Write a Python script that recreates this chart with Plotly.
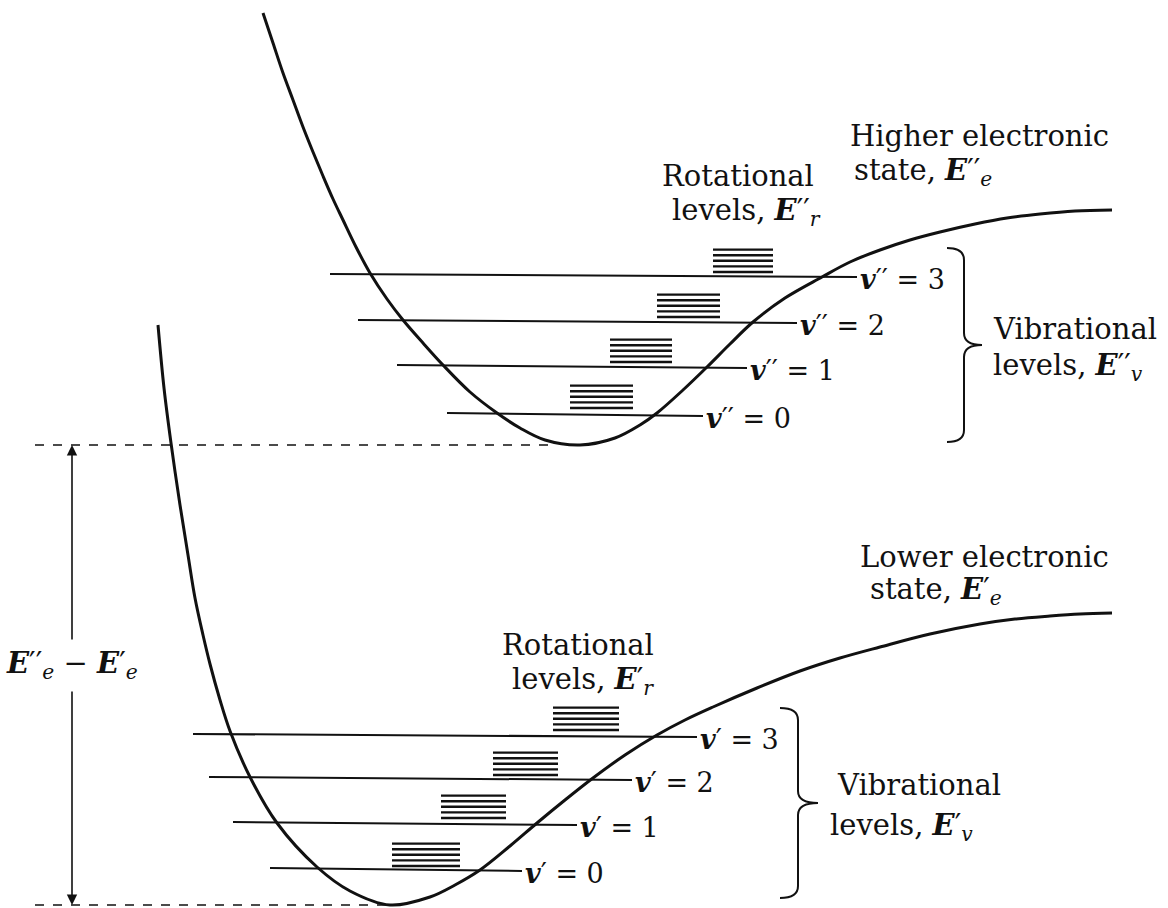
import plotly.graph_objects as go

W, H = 1168, 908

# ---- potential curves (pixel space) ----
upper_curve_x = [263, 273, 283, 293, 303, 313, 323, 333, 343, 356, 370, 387, 403, 423, 443, 470, 497, 520, 545, 580,
                 615, 640, 657, 683, 707, 730, 753, 785, 822, 850, 880, 910, 940, 975, 1007, 1040, 1075, 1112]
upper_curve_y = [13, 43, 73, 100, 127, 152, 176, 199, 220, 247, 273, 299, 320, 343, 365, 392, 413, 428, 440, 445,
                 438, 425, 413, 390, 367, 344, 322, 298, 277, 262, 250, 240, 232, 224, 218, 214, 211, 210]

lower_curve_x = [158, 164, 171, 180, 188, 195, 203, 210, 220, 230, 250, 277, 317, 350, 390, 430, 455, 480, 510, 537,
                 565, 593, 625, 657, 685, 713, 757, 800, 840, 880, 930, 980, 1015, 1050, 1080, 1112]
lower_curve_y = [325, 388, 443, 505, 555, 598, 635, 664, 700, 731, 777, 823, 867, 891, 905, 897, 885, 870, 846, 823,
                 800, 778, 755, 735, 720, 707, 688, 671, 658, 647, 634, 624, 619, 616, 614, 613]

# ---- vibrational levels ----
upper_level_y = [414, 366, 321, 275]
upper_level_x0 = [447, 397, 358, 330]
upper_level_x1 = [703, 747, 797, 857]
upper_level_labels = ["<b><i>v</i></b>′′ = 0", "<b><i>v</i></b>′′ = 1", "<b><i>v</i></b>′′ = 2", "<b><i>v</i></b>′′ = 3"]

lower_level_y = [869, 823, 778, 735]
lower_level_x0 = [270, 233, 209, 193]
lower_level_x1 = [522, 577, 632, 697]
lower_level_labels = ["<b><i>v</i></b>′ = 0", "<b><i>v</i></b>′ = 1", "<b><i>v</i></b>′ = 2", "<b><i>v</i></b>′ = 3"]

# ---- rotational level blocks ----
upper_rot_x0 = [570, 610, 657, 713]
upper_rot_x1 = [633, 672, 720, 773]
upper_rot_ybot = [408, 362, 317, 272]

lower_rot_x0 = [392, 441, 493, 553]
lower_rot_x1 = [460, 506, 558, 619]
lower_rot_ybot = [866, 818, 775, 730]

n_rot_lines = 5
rot_gap = 5.6

# ---- reference dashed lines ----
upper_dash_y, upper_dash_x = 445, [35, 552]
lower_dash_y, lower_dash_x = 905, [35, 392]

FONT = "DejaVu Serif"
BLACK = "#111111"

fig = go.Figure()

def line(xs, ys, width, dash="solid", shape="linear"):
    fig.add_trace(go.Scatter(x=xs, y=ys, mode="lines",
                             line=dict(color=BLACK, width=width, dash=dash, shape=shape, smoothing=1.0),
                             hoverinfo="skip", showlegend=False))

line(upper_curve_x, upper_curve_y, 3, shape="spline")
line(lower_curve_x, lower_curve_y, 3, shape="spline")

for y, a, b in zip(upper_level_y, upper_level_x0, upper_level_x1):
    line([a, b], [y - 1, y + 2], 2)
for y, a, b in zip(lower_level_y, lower_level_x0, lower_level_x1):
    line([a, b], [y - 1, y + 2], 2)

for x0s, x1s, ybs in [(upper_rot_x0, upper_rot_x1, upper_rot_ybot), (lower_rot_x0, lower_rot_x1, lower_rot_ybot)]:
    for a, b, yb in zip(x0s, x1s, ybs):
        for k in range(n_rot_lines):
            yy = yb - k * rot_gap
            line([a, b], [yy, yy], 2.4)

line(upper_dash_x, [upper_dash_y, upper_dash_y], 1.3, dash="dash")
line(lower_dash_x, [lower_dash_y, lower_dash_y], 1.3, dash="dash")

annotations = []

def text(x, y, s, size=29, anchor="left"):
    annotations.append(dict(x=x, y=y, xref="x", yref="y", text=s, showarrow=False,
                            xanchor=anchor, yanchor="middle",
                            font=dict(family=FONT, size=size, color=BLACK)))

for y, b, s in zip(upper_level_y, upper_level_x1, upper_level_labels):
    text(b + 1, y + 4, s, size=27)
for y, b, s in zip(lower_level_y, lower_level_x1, lower_level_labels):
    text(b + 1, y + 4, s, size=27)

E = "<b><i>E</i></b>"
text(848, 136, "Higher electronic")
text(852, 172, f"state, {E}′′<sub><i>e</i></sub>")
text(660, 176, "Rotational")
text(670, 212, f"levels, {E}′′<sub><i>r</i></sub>")
text(991, 329, "Vibrational")
text(991, 367, f"levels, {E}′′<sub><i>v</i></sub>")

text(858, 557, "Lower electronic")
text(868, 591, f"state, {E}′<sub><i>e</i></sub>")
text(500, 645, "Rotational")
text(510, 681, f"levels, {E}′<sub><i>r</i></sub>")
text(835, 785, "Vibrational")
text(828, 827, f"levels, {E}′<sub><i>v</i></sub>")

text(72, 665, f"{E}′′<sub><i>e</i></sub> − {E}′<sub><i>e</i></sub>", anchor="center")

# double-headed arrow for energy gap
arrow_x = 72
for head, tail in [(upper_dash_y, 641), (lower_dash_y, 690)]:
    annotations.append(dict(x=arrow_x, y=head, ax=arrow_x, ay=tail, xref="x", yref="y",
                            axref="x", ayref="y", showarrow=True, arrowhead=2,
                            arrowsize=1.3, arrowwidth=1.6, arrowcolor=BLACK, text=""))

# curly braces
def brace(xl, xm, xt, ytop, ybot, r=12):
    ymid = (ytop + ybot) / 2
    return (f"M {xl},{ytop} Q {xm},{ytop} {xm},{ytop + r} L {xm},{ymid - r} "
            f"Q {xm},{ymid} {xt},{ymid} Q {xm},{ymid} {xm},{ymid + r} "
            f"L {xm},{ybot - r} Q {xm},{ybot} {xl},{ybot}")

shapes = [
    dict(type="path", xref="x", yref="y", path=brace(947, 964, 982, 248, 442),
         line=dict(color=BLACK, width=2)),
    dict(type="path", xref="x", yref="y", path=brace(780, 798, 818, 708, 898),
         line=dict(color=BLACK, width=2)),
]

fig.update_layout(
    width=W, height=H, margin=dict(l=0, r=0, t=0, b=0),
    paper_bgcolor="white", plot_bgcolor="white",
    xaxis=dict(range=[0, W], visible=False, fixedrange=True),
    yaxis=dict(range=[H, 0], visible=False, fixedrange=True),
    annotations=annotations, shapes=shapes,
)

fig.write_html("out.html", config={"displayModeBar": False},
               post_script="document.body.style.margin='0';document.body.style.overflow='hidden';")
